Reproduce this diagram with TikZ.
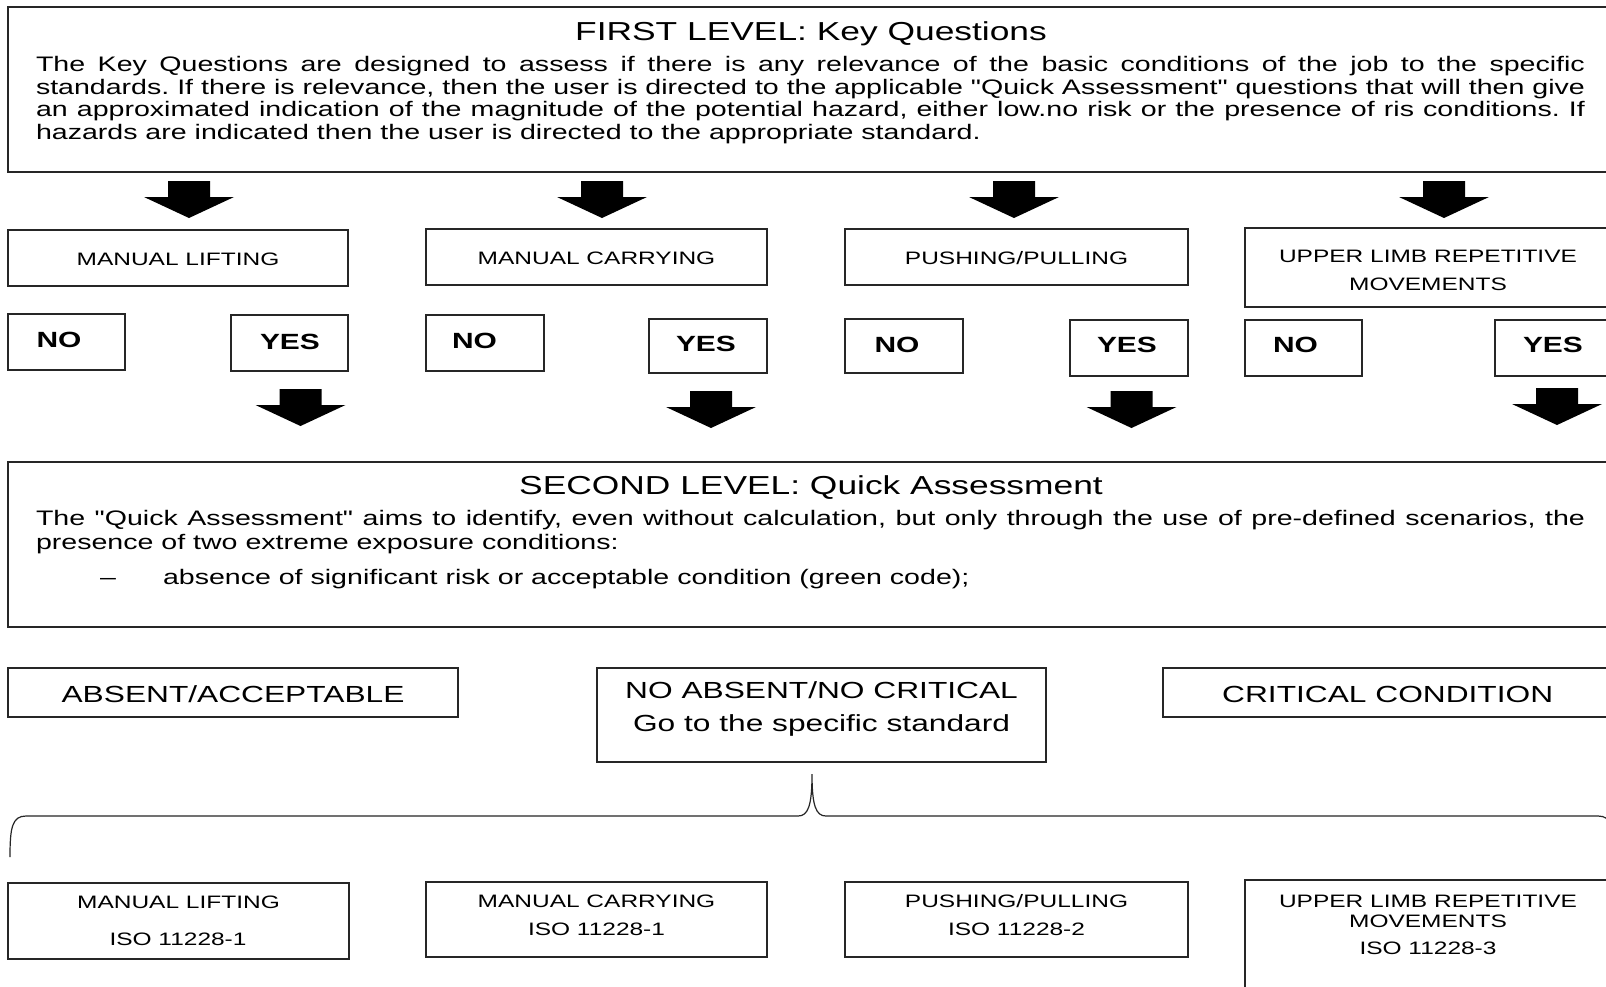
\documentclass[tikz,border=0pt]{standalone}
\usepackage{fontspec}
\setmainfont{Liberation Sans}[FakeStretch=1.36, Ligatures=TeXOff]
\newcommand\ftitle{\fontsize{26}{30}\selectfont}
\newcommand\fbody{\fontsize{21}{22.5}\selectfont}
\newcommand\fcat{\fontsize{18}{21}\selectfont}
\newcommand\fyn{\fontsize{22}{24}\selectfont\bfseries}
\newcommand\fres{\fontsize{23.3}{26}\selectfont}
\frenchspacing
\begin{document}
\begin{tikzpicture}[x=1pt,y=-1pt]
\useasboundingbox (0,0) rectangle (1606,986);
\fill[white] (0,0) rectangle (1606,986);
\tikzset{
  box/.style={draw=black!85, line width=1.2pt, inner sep=0pt, outer sep=0pt, rectangle, anchor=north west},
  lbl/.style={inner sep=0pt, outer sep=0pt, anchor=base, text=black},
  lblw/.style={lbl, anchor=base west},
  blockarrow/.pic={\fill[black] (-21,0) -- (21,0) -- (21,16) -- (45,16) -- (0,37) -- (-45,16) -- (-21,16) -- cycle;},
  brace/.style={draw=black!85, line width=1.2pt}
}
% ---------- first level ----------
\node[box, minimum width=1606pt, minimum height=165pt] (first) at (8,7) {};
\node[lbl, font=\ftitle] (firstT) at (811,40.5) {FIRST LEVEL: Key Questions};
\node[lblw, font=\fbody] (f1) at (36,71.5) {\makebox[1549pt][s]{The Key Questions are designed to assess if there is any relevance of the basic conditions of the job to the specific}};
\node[lblw, font=\fbody] (f2) at (36,94) {\makebox[1549pt][s]{standards. If there is relevance, then the user is directed to the applicable "Quick Assessment" questions that will then give}};
\node[lblw, font=\fbody] (f3) at (36,116.5) {\makebox[1549pt][s]{an approximated indication of the magnitude of the potential hazard, either low.no risk or the presence of ris conditions. If}};
\node[lblw, font=\fbody] (f4) at (36,139) {hazards are indicated then the user is directed to the appropriate standard.};
% arrows row A
\pic at (189,181) {blockarrow};
\pic at (602,181) {blockarrow};
\pic at (1014,181) {blockarrow};
\pic at (1444,181) {blockarrow};
% ---------- categories ----------
\node[box, minimum width=340pt, minimum height=56pt] (ml) at (8,230) {};
\node[box, minimum width=341pt, minimum height=56pt] (mc) at (426,229) {};
\node[box, minimum width=343pt, minimum height=56pt] (pp) at (845,229) {};
\node[box, minimum width=367pt, minimum height=79pt] (ul) at (1245,228) {};
\node[lbl, font=\fcat] (mlT) at (178,265) {MANUAL LIFTING};
\node[lbl, font=\fcat] (mcT) at (596.5,264) {MANUAL CARRYING};
\node[lbl, font=\fcat] (ppT) at (1016.5,264) {PUSHING/PULLING};
\node[lbl, font=\fcat] (ulT1) at (1428,262) {UPPER LIMB REPETITIVE};
\node[lbl, font=\fcat] (ulT2) at (1428,290) {MOVEMENTS};
% ---------- yes / no ----------
\node[box, minimum width=117pt, minimum height=56pt] (no1) at (8,314) {};
\node[box, minimum width=117pt, minimum height=56pt] (yes1) at (231,315) {};
\node[box, minimum width=118pt, minimum height=56pt] (no2) at (426,315) {};
\node[box, minimum width=118pt, minimum height=54pt] (yes2) at (649,319) {};
\node[box, minimum width=118pt, minimum height=54pt] (no3) at (845,319) {};
\node[box, minimum width=118pt, minimum height=56pt] (yes3) at (1070,320) {};
\node[box, minimum width=117pt, minimum height=56pt] (no4) at (1245,320) {};
\node[box, minimum width=117pt, minimum height=56pt] (yes4) at (1495,320) {};
\node[lblw, font=\fyn] (no1T) at (36.6,347) {NO};
\node[lblw, font=\fyn] (yes1T) at (260,349) {YES};
\node[lblw, font=\fyn] (no2T) at (452,348) {NO};
\node[lblw, font=\fyn] (yes2T) at (676,351) {YES};
\node[lblw, font=\fyn] (no3T) at (874.5,352) {NO};
\node[lblw, font=\fyn] (yes3T) at (1097,352) {YES};
\node[lblw, font=\fyn] (no4T) at (1273,352) {NO};
\node[lblw, font=\fyn] (yes4T) at (1523,352) {YES};
% arrows row D
\pic at (300.5,389) {blockarrow};
\pic at (711,391) {blockarrow};
\pic at (1131.5,391) {blockarrow};
\pic at (1557,388) {blockarrow};
% ---------- second level ----------
\node[box, minimum width=1606pt, minimum height=165pt] (second) at (8,462) {};
\node[lbl, font=\ftitle] (secondT) at (811,494.5) {SECOND LEVEL: Quick Assessment};
\node[lblw, font=\fbody] (s1) at (36,525.5) {\makebox[1549pt][s]{The "Quick Assessment" aims to identify, even without calculation, but only through the use of pre-defined scenarios, the}};
\node[lblw, font=\fbody] (s2) at (36,549) {presence of two extreme exposure conditions:};
\node[lblw, font=\fbody] (sd) at (100,584) {–};
\node[lblw, font=\fbody] (s3) at (163,584) {absence of significant risk or acceptable condition (green code);};
% ---------- results ----------
\node[box, minimum width=450pt, minimum height=49pt] (abs) at (8,668) {};
\node[box, minimum width=449pt, minimum height=94pt] (noabs) at (597,668) {};
\node[box, minimum width=449pt, minimum height=49pt] (crit) at (1163,668) {};
\node[lbl, font=\fres] (absT) at (233,702) {ABSENT/ACCEPTABLE};
\node[lbl, font=\fres] (noabsT1) at (821.5,698) {NO ABSENT/NO CRITICAL};
\node[lbl, font=\fres] (noabsT2) at (821.5,731) {Go to the specific standard};
\node[lbl, font=\fres] (critT) at (1387.7,702) {CRITICAL CONDITION};
% brace
\coordinate (brL) at (10,857);
\coordinate (brTip) at (812,774);
\coordinate (brR) at (1614,857);
\draw[brace] (brL) .. controls (10,828) and (12,816) .. (26,816) -- (798,816)
  .. controls (808,816) and (812,806) .. (brTip)
  .. controls (812,806) and (816,816) .. (826,816) -- (1598,816)
  .. controls (1612,816) and (1614,828) .. (brR);
% ---------- standards ----------
\node[box, minimum width=341pt, minimum height=76pt] (bml) at (8,883) {};
\node[box, minimum width=341pt, minimum height=75pt] (bmc) at (426,882) {};
\node[box, minimum width=343pt, minimum height=75pt] (bpp) at (845,882) {};
\node[box, minimum width=367pt, minimum height=130pt] (bul) at (1245,880) {};
\node[lbl, font=\fcat] (bmlT1) at (178.5,908) {MANUAL LIFTING};
\node[lbl, font=\fcat] (bmlT2) at (178,945) {ISO 11228-1};
\node[lbl, font=\fcat] (bmcT1) at (596.5,907) {MANUAL CARRYING};
\node[lbl, font=\fcat] (bmcT2) at (596.5,935) {ISO 11228-1};
\node[lbl, font=\fcat] (bppT1) at (1016.5,907) {PUSHING/PULLING};
\node[lbl, font=\fcat] (bppT2) at (1016.5,935) {ISO 11228-2};
\node[lbl, font=\fcat] (bulT1) at (1428,907) {UPPER LIMB REPETITIVE};
\node[lbl, font=\fcat] (bulT2) at (1428,927) {MOVEMENTS};
\node[lbl, font=\fcat] (bulT3) at (1428,954) {ISO 11228-3};
\end{tikzpicture}
\end{document}
